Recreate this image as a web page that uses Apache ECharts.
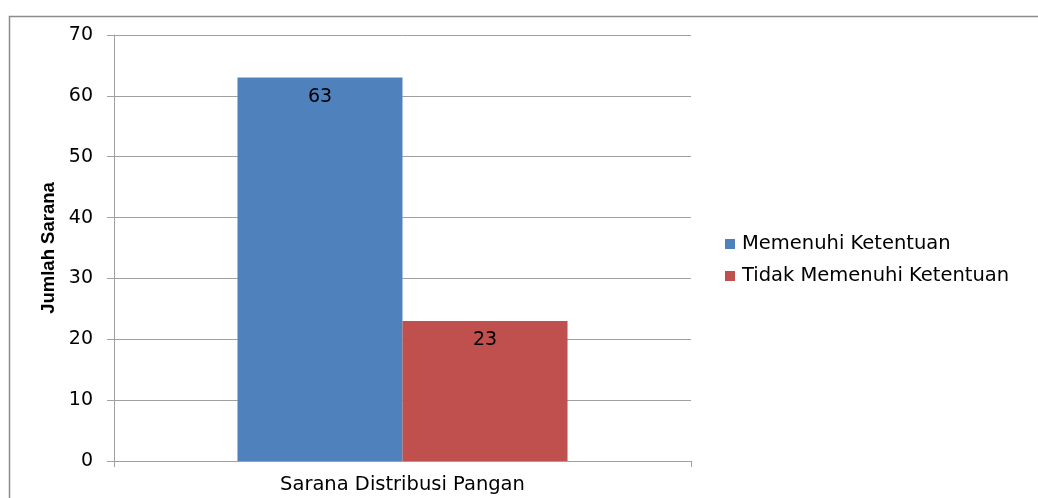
<!DOCTYPE html>
<html><head><meta charset="utf-8">
<script src="https://cdn.jsdelivr.net/npm/echarts@6/dist/echarts.min.js"></script>
<style>html,body{margin:0;padding:0;background:#fff}#c{width:1038px;height:498px}</style>
</head><body><div id="c"></div>
<script>
const categories = ['Sarana Distribusi Pangan'];
const seriesNames = ['Memenuhi Ketentuan', 'Tidak Memenuhi Ketentuan'];
const memenuhi = [63];
const tidakMemenuhi = [23];
const yTicks = {min: 0, max: 70, interval: 10};
const colors = ['#4F81BD', '#C0504D'];
const font = '"DejaVu Sans", Arial, sans-serif';
const titleFont = '"Liberation Sans", Arial, sans-serif';

const chart = echarts.init(document.getElementById('c'), null, {renderer: 'canvas'});
const labelCfg = {show: true, position: 'insideTop', distance: 10, color: '#000', fontSize: 19, fontFamily: font};
chart.setOption({
  animation: false,
  textStyle: {fontFamily: font},
  graphic: [{type: 'rect', shape: {x: 9.5, y: 16.5, width: 1100, height: 600}, style: {fill: null, stroke: '#8c8c8c', lineWidth: 1.5}, silent: true}],
  grid: {left: 114, top: 35, right: 347, bottom: 37},
  legend: {
    orient: 'vertical', left: 720, top: 229, itemWidth: 10, itemHeight: 10, itemGap: 12,
    icon: 'rect', textStyle: {fontSize: 19.5, color: '#000', fontFamily: font, padding: [0,0,0,2]},
    data: seriesNames
  },
  xAxis: {
    type: 'category', data: categories,
    axisLine: {lineStyle: {color: '#a0a0a0', width: 1}},
    axisTick: {show: true, length: 6, lineStyle: {color: '#a0a0a0'}},
    axisLabel: {color: '#000', fontSize: 19.5, margin: 14, fontFamily: font}
  },
  yAxis: {
    type: 'value', min: yTicks.min, max: yTicks.max, interval: yTicks.interval,
    name: 'Jumlah Sarana', nameLocation: 'middle', nameGap: 56, nameRotate: 90,
    nameTextStyle: {fontSize: 18.5, fontWeight: 'bold', color: '#000', fontFamily: titleFont},
    axisLine: {show: true, lineStyle: {color: '#a0a0a0', width: 1}},
    axisTick: {show: true, length: 7, lineStyle: {color: '#a0a0a0'}},
    axisLabel: {color: '#000', fontSize: 19, margin: 21, fontFamily: font},
    splitLine: {show: true, lineStyle: {color: '#a0a0a0', width: 1}}
  },
  series: [
    {name: seriesNames[0], type: 'bar', data: memenuhi, itemStyle: {color: colors[0]}, barGap: '0%', barCategoryGap: '42.8%', label: labelCfg},
    {name: seriesNames[1], type: 'bar', data: tidakMemenuhi, itemStyle: {color: colors[1]}, barGap: '0%', barCategoryGap: '42.8%', label: labelCfg}
  ]
});
</script></body></html>
